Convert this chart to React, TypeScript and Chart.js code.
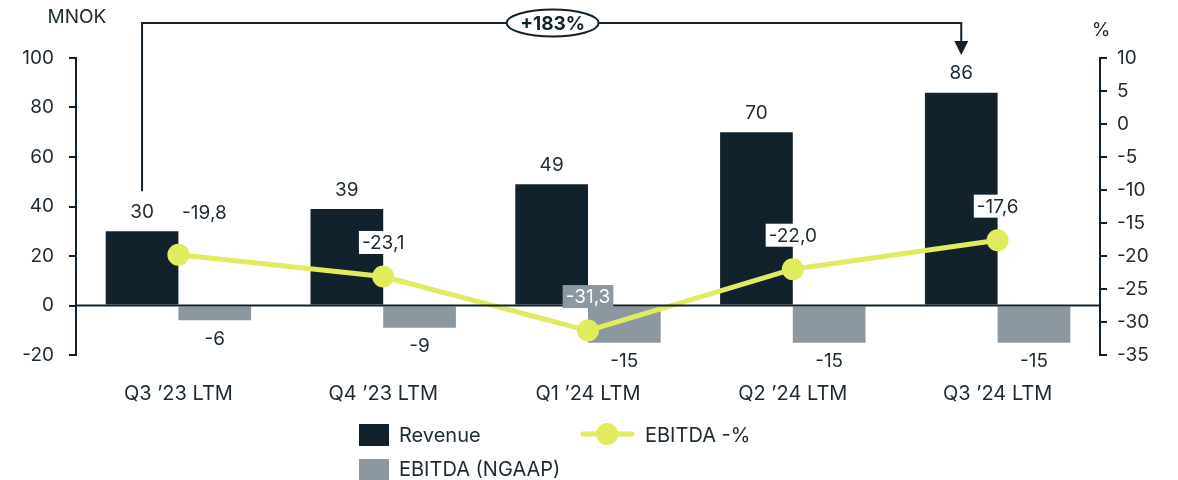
import React, { useEffect, useRef } from "react";
import { Chart, registerables } from "chart.js";

Chart.register(...registerables);

const categories = ["Q3 ’23 LTM", "Q4 ’23 LTM", "Q1 ’24 LTM", "Q2 ’24 LTM", "Q3 ’24 LTM"];
const revenue = [30, 39, 49, 70, 86];
const ebitda = [-6, -9, -15, -15, -15];
const ebitdaPct = [-19.8, -23.1, -31.3, -22.0, -17.6];
const leftTicks = [-20, 0, 20, 40, 60, 80, 100];
const rightTicks = [-35, -30, -25, -20, -15, -10, -5, 0, 5, 10];
const growthLabel = "+183%";

const DARK = "#11222c";
const GREY = "#8c979f";
const LIME = "#e0ec5e";
const TEXT = "#1d2a32";
const FONT = "Inter, 'Open Sans', sans-serif";

const pctLabelDx = [26, 0, 0, 0, 0];
const pctLabelDy = [-42, -34, -34, -34, -34];

const overlay = {
  id: "overlay",
  afterDatasetsDraw(chart: any) {
    const ctx = chart.ctx;
    const { left, right } = chart.chartArea;
    const y0 = chart.scales.y.getPixelForValue(0);
    ctx.save();
    ctx.strokeStyle = DARK;
    ctx.lineWidth = 2;
    ctx.beginPath();
    ctx.moveTo(left, y0);
    ctx.lineTo(right, y0);
    ctx.stroke();
    ctx.restore();
  },
  afterDraw(chart: any) {
    const ctx = chart.ctx;
    ctx.save();
    ctx.font = `19px ${FONT}`;
    ctx.textAlign = "center";
    ctx.textBaseline = "middle";
    ctx.fillStyle = TEXT;
    const revMeta = chart.getDatasetMeta(0);
    const ebMeta = chart.getDatasetMeta(1);
    revMeta.data.forEach((bar: any, i: number) => {
      ctx.fillText(String(revenue[i]), bar.x, bar.y - 19);
    });
    ebMeta.data.forEach((bar: any, i: number) => {
      ctx.fillText(String(ebitda[i]), bar.x, bar.y + 19);
    });

    const lineMeta = chart.getDatasetMeta(2);
    lineMeta.data.forEach((pt: any, i: number) => {
      const txt = ebitdaPct[i].toFixed(1).replace(".", ",");
      const cx = pt.x + pctLabelDx[i];
      const cy = pt.y + pctLabelDy[i];
      const w = ctx.measureText(txt).width + 6;
      const h = 23;
      const onGrey = i === 2;
      if (i !== 0) {
        ctx.fillStyle = onGrey ? GREY : "#ffffff";
        ctx.fillRect(cx - w / 2, cy - h / 2, w, h);
      }
      ctx.fillStyle = onGrey ? "#ffffff" : TEXT;
      ctx.fillText(txt, cx, cy + 1);
    });

    // bracket annotation
    const b0 = revMeta.data[0];
    const b4 = revMeta.data[revMeta.data.length - 1];
    const topY = 23;
    ctx.strokeStyle = DARK;
    ctx.lineWidth = 2;
    ctx.beginPath();
    ctx.moveTo(b0.x, b0.y - 40);
    ctx.lineTo(b0.x, topY);
    ctx.lineTo(b4.x, topY);
    ctx.lineTo(b4.x, 42);
    ctx.stroke();
    ctx.fillStyle = DARK;
    ctx.beginPath();
    ctx.moveTo(b4.x - 7, 41);
    ctx.lineTo(b4.x + 7, 41);
    ctx.lineTo(b4.x, 55);
    ctx.closePath();
    ctx.fill();
    const mx = (b0.x + b4.x) / 2 + 1;
    ctx.fillStyle = "#ffffff";
    ctx.beginPath();
    ctx.ellipse(mx, topY, 46, 13.5, 0, 0, Math.PI * 2);
    ctx.fill();
    ctx.stroke();
    ctx.fillStyle = DARK;
    ctx.font = `bold 19px ${FONT}`;
    ctx.fillText(growthLabel, mx, topY + 1);

    // axis titles
    ctx.font = `19px ${FONT}`;
    ctx.fillStyle = TEXT;
    ctx.fillText("MNOK", 77, 17);
    ctx.fillText("%", 1101, 30);

    // legend
    ctx.textAlign = "left";
    ctx.fillStyle = DARK;
    ctx.fillRect(359, 424, 30, 22);
    ctx.fillStyle = GREY;
    ctx.fillRect(359, 459, 30, 22);
    ctx.strokeStyle = LIME;
    ctx.lineWidth = 5;
    ctx.lineCap = "round";
    ctx.beginPath();
    ctx.moveTo(583, 434);
    ctx.lineTo(632, 434);
    ctx.stroke();
    ctx.fillStyle = LIME;
    ctx.beginPath();
    ctx.arc(607, 434, 11, 0, Math.PI * 2);
    ctx.fill();
    ctx.fillStyle = TEXT;
    ctx.font = `20px ${FONT}`;
    ctx.fillText("Revenue", 399, 436);
    ctx.fillText("EBITDA (NGAAP)", 399, 470);
    ctx.fillText("EBITDA -%", 645, 436);
    ctx.restore();
  },
};

export default function App() {
  const ref = useRef<HTMLCanvasElement>(null);
  useEffect(() => {
    const chart = new Chart(ref.current!, {
      type: "bar",
      data: {
        labels: categories,
        datasets: [
          {
            label: "Revenue",
            data: revenue,
            backgroundColor: DARK,
            yAxisID: "y",
            order: 1,
            categoryPercentage: 0.71,
            barPercentage: 1,
          },
          {
            label: "EBITDA (NGAAP)",
            data: ebitda,
            backgroundColor: GREY,
            yAxisID: "y",
            order: 1,
            categoryPercentage: 0.71,
            barPercentage: 1,
          },
          {
            type: "line",
            label: "EBITDA -%",
            data: ebitdaPct,
            borderColor: LIME,
            backgroundColor: LIME,
            borderWidth: 5,
            pointRadius: 11,
            pointBackgroundColor: LIME,
            pointBorderWidth: 0,
            yAxisID: "y1",
            order: 0,
          } as any,
        ],
      },
      options: {
        animation: false,
        responsive: false,
        maintainAspectRatio: false,
        layout: { padding: { top: 58, left: 0, right: 0, bottom: 0 } },
        plugins: { legend: { display: false }, tooltip: { enabled: false } },
        scales: {
          x: {
            grid: { display: false, drawTicks: false },
            border: { display: false },
            ticks: { padding: 27, color: TEXT, font: { family: FONT, size: 20 } },
            afterFit(s: any) {
              s.height = 125;
            },
          },
          y: {
            position: "left",
            min: -20,
            max: 100,
            afterBuildTicks(s: any) {
              s.ticks = leftTicks.map((v) => ({ value: v }));
            },
            grid: { drawOnChartArea: false, drawTicks: true, tickLength: 7, color: DARK, lineWidth: 2 },
            border: { display: true, color: DARK, width: 2 },
            ticks: { padding: 15, color: TEXT, font: { family: FONT, size: 19 } },
            afterFit(s: any) {
              s.width = 76;
            },
          },
          y1: {
            position: "right",
            min: -35,
            max: 10,
            afterBuildTicks(s: any) {
              s.ticks = rightTicks.map((v) => ({ value: v }));
            },
            grid: { drawOnChartArea: false, drawTicks: true, tickLength: 7, color: DARK, lineWidth: 2 },
            border: { display: true, color: DARK, width: 2 },
            ticks: { padding: 10, color: TEXT, font: { family: FONT, size: 19 } },
            afterFit(s: any) {
              s.width = 78;
            },
          },
        },
      },
      plugins: [overlay],
    });
    return () => chart.destroy();
  }, []);
  return (
    <div style={{ position: "fixed", left: 0, top: 0, width: 1178, height: 480, background: "#fff" }}>
      <canvas ref={ref} width={1178} height={480} style={{ width: 1178, height: 480 }} />
    </div>
  );
}
